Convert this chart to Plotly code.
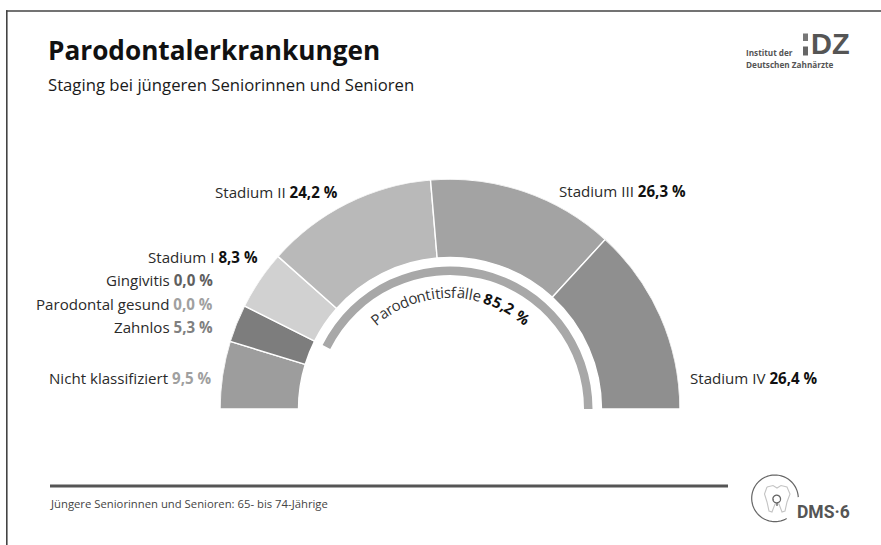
import numpy as np
import plotly.graph_objects as go

W, H = 881, 545
FONT = "Open Sans"

# Data
categories = ["Nicht klassifiziert", "Zahnlos", "Parodontal gesund", "Gingivitis",
              "Stadium I", "Stadium II", "Stadium III", "Stadium IV"]
values = [9.5, 5.3, 0.0, 0.0, 8.3, 24.2, 26.3, 26.4]
value_labels = ["9,5 %", "5,3 %", "0,0 %", "0,0 %", "8,3 %", "24,2 %", "26,3 %", "26,4 %"]
slice_colors = ["#9d9d9d", "#7d7d7d", "#aaaaaa", "#555555", "#d1d1d1", "#b9b9b9", "#a3a3a3", "#8f8f8f"]
value_colors = ["#a0a0a0", "#808080", "#a0a0a0", "#606060", "#111111", "#111111", "#111111", "#111111"]
label_anchor = [(212, 378, "right"), (213, 327, "right"), (213, 304, "right"), (213, 280, "right"),
                (258, 257, "right"), (338, 192, "right"), (686, 191, "right"), (690, 378, "left")]
periodontitis_share = 85.2
periodontitis_start = 14.8

values_arr = np.array(values)
starts = np.concatenate([[0], np.cumsum(values_arr)[:-1]])
K = 180 / 100

fig = go.Figure()
fig.add_trace(go.Barpolar(
    theta=(starts + values_arr / 2) * K, width=values_arr * K,
    r=[78.5] * len(values), base=151.5,
    marker=dict(color=slice_colors, line=dict(color="white", width=1.4)),
    hoverinfo="skip", showlegend=False))
fig.add_trace(go.Barpolar(
    theta=[(periodontitis_start + periodontitis_share / 2) * K], width=[periodontitis_share * K],
    r=[8.5], base=134,
    marker=dict(color="#a8a8a8", line=dict(color="#a8a8a8", width=0)),
    hoverinfo="skip", showlegend=False))

px = lambda x: x / W
py = lambda y: 1 - y / H
ann = []
def text(x, y, s, size, color="#222222", anchor="left", font=FONT, angle=0):
    ann.append(dict(x=px(x), y=py(y), xref="paper", yref="paper", text=s, showarrow=False,
                    xanchor=anchor, yanchor="middle", textangle=angle, borderpad=0, borderwidth=0,
                    font=dict(family=font, size=size, color=color)))

text(48, 50, "<b>Parodontalerkrankungen</b>", 26.2, "#111111")
text(48, 84, "Staging bei jüngeren Seniorinnen und Senioren", 16.7, "#1a1a1a")
text(50, 503, "Jüngere Seniorinnen und Senioren: 65- bis 74-Jährige", 11.3, "#444444")

for c, v, col, (x, y, a) in zip(categories, value_labels, value_colors, label_anchor):
    text(x, y, f"{c} <b><span style='color:{col}'>{v}</span></b>", 15.1, "#2a2a2a", a)

# Curved label: one real text run per glyph
EM = {"i": .27, "l": .27, "t": .37, "f": .35, "r": .42, "s": .47, "P": .6, "a": .56, "o": .6,
      "d": .61, "n": .62, "ä": .56, "e": .56, ",": .27, " ": .26, "%": .82}
runs = [(ch, False) for ch in "Parodontitisfälle "] + [(ch, True) for ch in "85,2 %"]
size = 15
R_TXT = 117
widths = [(EM.get(ch, .58) + (.04 if b else 0)) * 14.5 * 1.03 for ch, b in runs]
total = sum(widths)
pos = -total / 2
for (ch, b), w in zip(runs, widths):
    a = (pos + w / 2) / R_TXT
    pos += w
    if ch == " ":
        continue
    cx, cy = 450 + R_TXT * np.sin(a), 409 - R_TXT * np.cos(a)
    text(cx, cy, f"<b>{ch}</b>" if b else ch, size, "#111111" if b else "#333333", "center",
         angle=float(np.degrees(a)))

# IDZ logo text
text(746, 52, "<b>Institut der</b>", 8.2, "#555555")
text(746, 64, "<b>Deutschen Zahnärzte</b>", 8.2, "#555555")
text(811, 44.5, "<b>DZ</b>", 29, "#555555", font="Liberation Sans")
# DMS logo text
text(797, 512, "<b>DMS·6</b>", 17.5, "#555555", font="Roboto")

def rect(x0, y0, x1, y1, color):
    return dict(type="rect", xref="paper", yref="paper", x0=px(x0), x1=px(x1), y0=py(y0), y1=py(y1),
                fillcolor=color, line=dict(width=0), layer="above")
def poly(pts, color, width):
    d = "M" + " L".join(f"{px(x):.5f},{py(y):.5f}" for x, y in pts)
    return dict(type="path", xref="paper", yref="paper", path=d, line=dict(color=color, width=width),
                layer="above")
def arc(cx, cy, r, a0, a1, color, width):
    t = np.radians(np.linspace(a0, a1, 80))
    return poly(list(zip(cx + r * np.cos(t), cy + r * np.sin(t))), color, width)

shapes = [
    rect(6, 10.2, W, 11.8, "#444444"),
    rect(6, 10.2, 7.6, H, "#444444"),
    rect(50, 484.5, 728, 487.5, "#555555"),
    rect(803, 33.5, 808, 41, "#777777"),
    rect(803, 46.5, 808, 55.5, "#666666"),
    arc(775, 498.3, 23.3, -3, -300, "#666666", 1.2),
    poly([(767, 487), (773, 485.5), (777, 488), (781, 485.5), (787, 487), (790, 494), (787, 502),
          (785, 511), (782, 512), (779, 504), (775, 504), (772, 512), (769, 511), (767, 502),
          (764.5, 494), (767, 487)], "#c4c4c4", 1.1),
    arc(776.7, 499, 3.8, 0, 360, "#666666", 1.3),
    poly([(777, 503), (777, 506)], "#666666", 1.3),
]

fig.update_layout(
    width=W, height=H, autosize=False,
    margin=dict(l=0, r=0, t=0, b=0, pad=0),
    paper_bgcolor="white", plot_bgcolor="white", showlegend=False,
    polar=dict(
        domain=dict(x=[220 / W, 680 / W], y=[1 - 409 / H, 1 - 179 / H]),
        sector=[0, 180], bgcolor="rgba(0,0,0,0)", barmode="overlay",
        radialaxis=dict(range=[0, 230], visible=False, showgrid=False),
        angularaxis=dict(direction="clockwise", rotation=180, visible=False, showgrid=False,
                         thetaunit="degrees"),
    ),
    annotations=ann, shapes=shapes,
)
fig.write_html("out.html", config=dict(displayModeBar=False),
               post_script="document.body.style.margin='0';document.documentElement.style.overflow='hidden';")
